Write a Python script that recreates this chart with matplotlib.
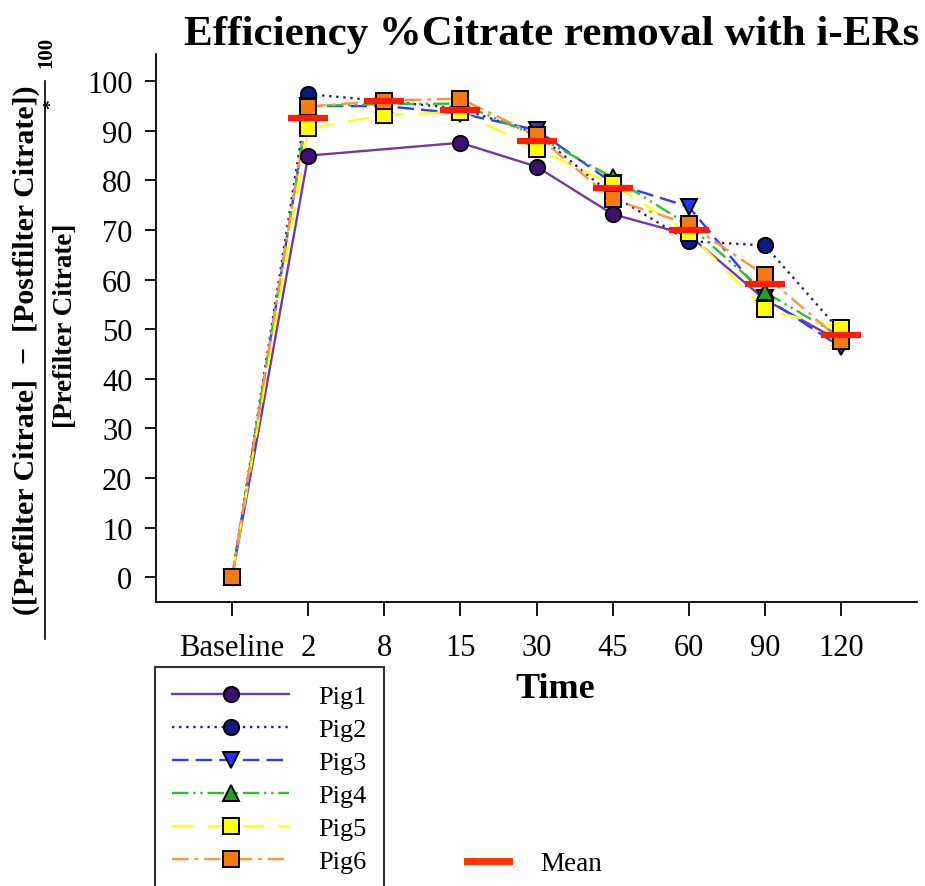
import numpy as np
import matplotlib.pyplot as plt
from matplotlib.lines import Line2D

plt.rcParams['font.family'] = ['Liberation Serif', 'DejaVu Serif']

times = ['Baseline', '2', '8', '15', '30', '45', '60', '90', '120']
pig1 = [0, 85.0, np.nan, 87.6, 82.8, 73.2, 69.0, 56.0, 47.5]
pig2 = [0, 97.4, 96.0, 94.5, 89.5, 77.0, 67.8, 66.9, 49.5]
pig3 = [0, 95.0, 95.0, 93.5, 90.2, 79.5, 74.7, 56.4, 46.4]
pig4 = [0, 95.0, 95.4, 95.5, 89.0, 80.6, 71.0, 57.5, 48.5]
pig5 = [0, 90.5, 93.2, 93.8, 86.4, 79.2, 69.5, 54.0, 50.2]
pig6 = [0, 94.9, 96.1, 96.5, 89.1, 76.2, 71.2, 60.9, 47.7]
mean = [np.nan, 92.5, 96.0, 94.2, 88.0, 78.5, 70.0, 59.1, 48.9]

names = ['Pig1', 'Pig2', 'Pig3', 'Pig4', 'Pig5', 'Pig6']
series = [pig1, pig2, pig3, pig4, pig5, pig6]
line_colors = ['#7338a8', '#20208c', '#2b3dff', '#2fbf2f', '#ffff1a', '#ff9440']
face_colors = ['#3f0f73', '#0d1a80', '#1f35f0', '#1fa31f', '#ffff00', '#f57a10']
markers = ['o', 'o', 'v', '^', 's', 's']
styles = ['-', (0, (1, 2)), (0, (7, 3)), (0, (7, 2, 1, 2, 1, 2)), (0, (9, 6)), (0, (7, 2.5, 1.5, 2.5))]

fig = plt.figure(figsize=(9.25, 8.87), dpi=100)
ax = fig.add_axes([156/925, 1-603/887, (917-156)/925, (603-55)/887])

x = np.arange(len(times))
handles = []
for name, ys, lc, fc, mk, ls in zip(names, series, line_colors, face_colors, markers, styles):
    ys = np.array(ys, dtype=float)
    ok = ~np.isnan(ys)
    ax.plot(x[ok], ys[ok], color=lc, ls=ls, lw=1.7, zorder=2)
    ax.plot(x[ok], ys[ok], ls='none', marker=mk, ms=11, mfc=fc, mec='black', mew=1.4, zorder=3)
    handles.append(Line2D([], [], color=lc, ls=ls, lw=1.7, marker=mk, ms=11,
                          mfc=fc, mec='black', mew=1.4))

ax.plot(x, mean, ls='none', marker='_', ms=29, mew=4.5, color='#ff1a00', zorder=4)

ax.set_xlim(-1, 9)
ax.set_ylim(-5, 105.5)
ax.set_xticks(x)
ax.set_xticklabels(times)
ax.set_yticks(np.arange(0, 101, 10))
ax.spines['top'].set_visible(False)
ax.spines['right'].set_visible(False)
ax.spines['left'].set_linewidth(1.3)
ax.spines['bottom'].set_linewidth(1.3)
ax.tick_params(axis='both', direction='out', labelsize=22, width=1.3)
ax.tick_params(axis='x', length=10, pad=12)
ax.tick_params(axis='y', length=8, pad=9)

fig.text(552/925, 1-35/887, 'Efficiency %Citrate removal with i-ERs',
         ha='center', va='center', fontsize=31, fontweight='bold')
fig.text(555/925, 1-690/887, 'Time', ha='center', va='center', fontsize=26, fontweight='bold')

# y label drawn as a fraction
fig.text(26/925, 1-350/887, '([Prefilter Citrate]  \u2212  [Postfilter Citrate])',
         rotation=90, ha='center', va='center', fontsize=21.5, fontweight='bold')
fig.text(66/925, 1-326/887, '[Prefilter Citrate]',
         rotation=90, ha='center', va='center', fontsize=19.5, fontweight='bold')
fig.add_artist(Line2D([45/925, 45/925], [1-640/887, 1-82/887], color='black', lw=1.2))
fig.text(52/925, 1-104/887, '*', rotation=90, ha='center', va='center',
         fontsize=14, fontweight='bold')
fig.text(46/925, 1-52/887, '100', rotation=90, ha='center', va='center',
         fontsize=15, fontweight='bold')

leg = fig.legend(handles, names, loc='upper left', bbox_to_anchor=(155/925, 1-668/887),
                 borderaxespad=0, borderpad=0.66, handlelength=4.43, handletextpad=1.1,
                 labelspacing=0.36, fontsize=19, fancybox=False, frameon=True)
leg.get_frame().set_edgecolor('black')
leg.get_frame().set_linewidth(1.5)

mean_handle = Line2D([], [], color='#ff3300', lw=5)
fig.legend([mean_handle], ['Mean'], loc='center left', bbox_to_anchor=(467/925, 1-865/887),
           frameon=False, fontsize=19.5, handlelength=1.55, handletextpad=1.15,
           borderaxespad=0, borderpad=0)

fig.savefig('out.png', dpi=100)
